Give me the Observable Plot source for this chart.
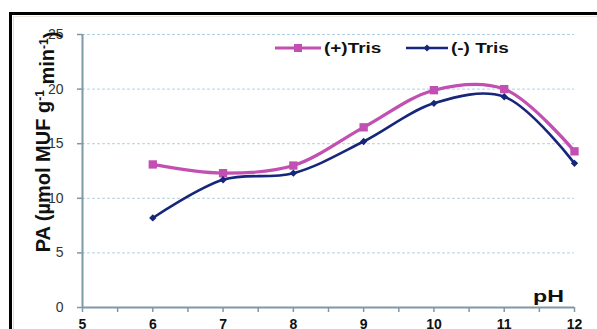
<!DOCTYPE html>
<html>
<head>
<meta charset="utf-8">
<script src="https://cdn.jsdelivr.net/npm/d3@7"></script>
<script src="https://cdn.jsdelivr.net/npm/@observablehq/plot@0.6"></script>
<style>
  html, body { margin: 0; padding: 0; background: #fff; overflow: hidden; width: 597px; height: 329px; }
  #wrap { position: relative; width: 597px; height: 329px; overflow: hidden; font-family: "Liberation Sans", Arial, sans-serif; background: #fff; }
  #box { position: absolute; left: 9px; top: 12px; width: 588px; height: 317px; border-left: 3.5px solid #000; border-top: 3.5px solid #000; box-sizing: border-box; pointer-events: none; }
  #inner { position: absolute; left: 13px; top: 16px; width: 584px; height: 313px; border-left: 1px solid #e6d8d4; border-top: 1px solid #efe4e0; box-sizing: border-box; pointer-events: none; }
  #edge { position: absolute; left: 586px; top: 17px; width: 11px; height: 312px; background: #fff; z-index: 10; }
  .legend { position: absolute; top: 40px; display: flex; align-items: center; font-size: 14px; font-weight: bold; color: #111; }
  .legend svg { display: block; }
  .legend span { display: inline-block; transform: scaleX(1.35); transform-origin: left center; margin-left: 3px; }
</style>
</head>
<body>
<div id="wrap"></div>
<script>
// pH values tested
const pH = [6, 7, 8, 9, 10, 11, 12];
// phosphatase activity, µmol MUF g-1 min-1
const withTris = [13.1, 12.3, 13.0, 16.5, 19.9, 20.0, 14.3];
const withoutTris = [8.2, 11.7, 12.3, 15.2, 18.7, 19.3, 13.2];
const seriesNames = ["(+)Tris", "(-) Tris"];
const xTicks = [5, 5.5, 6, 6.5, 7, 7.5, 8, 8.5, 9, 9.5, 10, 10.5, 11, 11.5, 12];
const yTicks = [0, 5, 10, 15, 20, 25];

const pink = "#c24fb2";
const navy = "#16267a";
const axisColor = "#7f98a8";

const plusRows = pH.map((p, i) => ({pH: p, v: withTris[i]}));
const minusRows = pH.map((p, i) => ({pH: p, v: withoutTris[i]}));

const svg = Plot.plot({
  width: 597,
  height: 329,
  marginLeft: 82,
  marginRight: 23,
  marginTop: 34,
  marginBottom: 22,
  style: {fontFamily: "Liberation Sans, Arial, sans-serif", fontSize: "14px", color: "#111", background: "transparent"},
  x: {domain: [5, 12]},
  y: {domain: [0, 25]},
  marks: [
    Plot.gridY(yTicks.filter(d => d > 0), {stroke: "#9cc6dc", strokeOpacity: 0.8, strokeDasharray: "3,2", strokeWidth: 1}),
    Plot.axisY(yTicks, {tickSize: 5, tickPadding: 14, stroke: axisColor, strokeWidth: 1.5, label: null, fill: "#333"}),
    Plot.axisX(xTicks, {tickSize: 5, tickPadding: 7, stroke: axisColor, strokeWidth: 1.5, label: null, fill: "#111", fontWeight: "bold",
      tickFormat: d => Number.isInteger(d) ? d : ""}),
    Plot.ruleX([5], {stroke: axisColor, strokeWidth: 2}),
    Plot.ruleY([0], {stroke: axisColor, strokeWidth: 2}),
    Plot.line(plusRows, {x: "pH", y: "v", stroke: pink, strokeWidth: 3.2, curve: "catmull-rom"}),
    Plot.dot(plusRows, {x: "pH", y: "v", symbol: "square", r: 4.7, fill: pink, stroke: "none"}),
    Plot.line(minusRows, {x: "pH", y: "v", stroke: navy, strokeWidth: 2.6, curve: "catmull-rom"}),
    Plot.dot(minusRows, {x: "pH", y: "v", symbol: "diamond2", r: 3.3, fill: navy, stroke: "none"})
  ]
});

// x-axis title, sitting above the axis at the right end
d3.select(svg).append("text")
  .attr("transform", "translate(548.5,302) scale(1.45,1)")
  .attr("text-anchor", "middle")
  .attr("font-size", 16)
  .attr("font-weight", "bold")
  .attr("fill", "#111")
  .text("pH");

// rotated y-axis title with superscripts
const title = d3.select(svg).append("text")
  .attr("transform", "translate(50,142) rotate(-90)")
  .attr("text-anchor", "middle")
  .attr("font-size", 20)
  .attr("font-weight", "bold")
  .attr("fill", "#111");
title.append("tspan").text("PA (µmol MUF g");
title.append("tspan").attr("dy", "-0.5em").attr("font-size", 12).text("-1");
title.append("tspan").attr("dy", "0.5em").text(" min");
title.append("tspan").attr("dy", "-0.5em").attr("font-size", 12).text("-1");
title.append("tspan").attr("dy", "0.5em").text(")");

const wrap = document.getElementById("wrap");
wrap.appendChild(svg);
svg.style.position = "absolute";
svg.style.left = "0";
svg.style.top = "0";

// legend
function legendItem(name, color, sym, left, w) {
  const div = document.createElement("div");
  div.className = "legend";
  div.style.left = left + "px";
  const s = d3.create("svg").attr("width", w).attr("height", 16);
  s.append("line").attr("x1", 0).attr("x2", w).attr("y1", 8).attr("y2", 8)
    .attr("stroke", color).attr("stroke-width", sym === "square" ? 3 : 2.4);
  const c = w / 2;
  if (sym === "square") s.append("rect").attr("x", c - 4).attr("y", 4).attr("width", 8).attr("height", 8).attr("fill", color);
  else s.append("path").attr("d", `M${c},4.5L${c + 3.5},8L${c},11.5L${c - 3.5},8Z`).attr("fill", color);
  div.appendChild(s.node());
  const t = document.createElement("span");
  t.textContent = name;
  div.appendChild(t);
  wrap.appendChild(div);
}
legendItem(seriesNames[0], pink, "square", 275, 46);
legendItem(seriesNames[1], navy, "diamond", 406, 42);

const box = document.createElement("div"); box.id = "box"; wrap.appendChild(box);
const inner = document.createElement("div"); inner.id = "inner"; wrap.appendChild(inner);
const edge = document.createElement("div"); edge.id = "edge"; wrap.appendChild(edge);
</script>
</body>
</html>
